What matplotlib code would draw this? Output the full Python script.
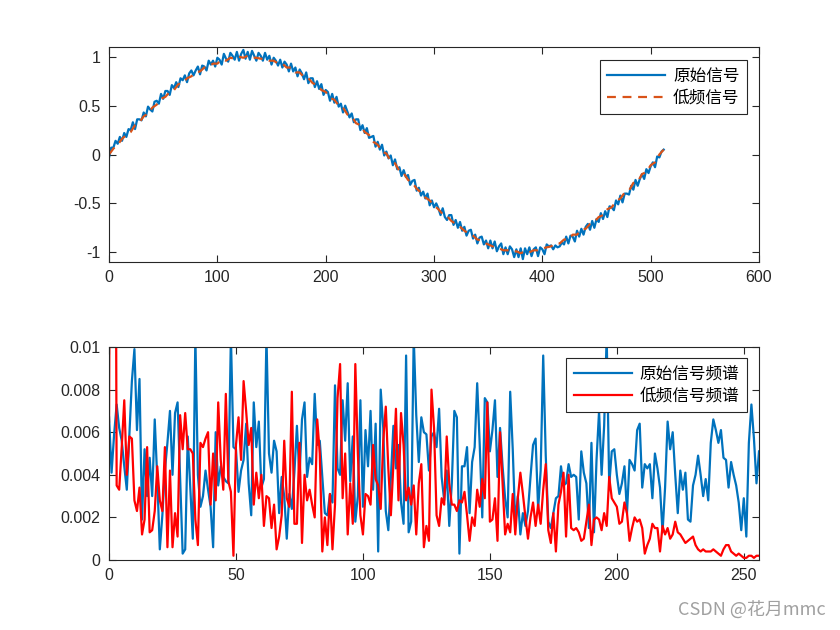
"""
Original vs low-frequency signal and their spectra (MATLAB-style look)
"""
import numpy as np
import matplotlib
matplotlib.use("Agg")
import matplotlib.pyplot as plt

plt.rcParams['font.family'] = ['Liberation Sans', 'Noto Sans CJK SC', 'DejaVu Sans']

# ---------------------------------------------------------
# Data
# ---------------------------------------------------------
RAW_STEP = 2  # sample spacing of raw_signal
LOW_STEP = 4  # sample spacing of low_signal

raw_signal = [
    -0.03, 0.07, 0.07, 0.14, 0.11, 0.18, 0.14, 0.22, 0.18, 0.26, 0.25, 0.33, 0.26, 0.36, 0.36, 0.35,
    0.43, 0.39, 0.49, 0.46, 0.44, 0.54, 0.55, 0.52, 0.62, 0.57, 0.65, 0.65, 0.61, 0.71, 0.68, 0.74,
    0.69, 0.78, 0.76, 0.81, 0.74, 0.83, 0.86, 0.81, 0.86, 0.90, 0.82, 0.91, 0.90, 0.86, 0.96, 0.92,
    0.96, 0.90, 0.99, 0.97, 0.92, 1.03, 0.98, 0.95, 1.04, 1.01, 0.97, 1.05, 0.96, 1.03, 1.07, 0.98,
    1.05, 0.97, 1.06, 1.01, 0.96, 1.04, 1.01, 0.96, 1.04, 0.97, 1.01, 0.92, 0.99, 0.96, 0.91, 0.97,
    0.89, 0.95, 0.92, 0.85, 0.93, 0.85, 0.89, 0.80, 0.87, 0.83, 0.77, 0.84, 0.73, 0.78, 0.78, 0.69,
    0.75, 0.67, 0.72, 0.61, 0.66, 0.64, 0.55, 0.62, 0.53, 0.59, 0.49, 0.52, 0.43, 0.50, 0.44, 0.38,
    0.42, 0.33, 0.36, 0.36, 0.25, 0.30, 0.22, 0.27, 0.17, 0.18, 0.19, 0.08, 0.13, 0.05, 0.10, -0.01,
    0.03, -0.04, -0.01, -0.11, -0.05, -0.15, -0.13, -0.22, -0.16, -0.23, -0.21, -0.31, -0.27, -0.26, -0.37, -0.34,
    -0.42, -0.38, -0.45, -0.40, -0.52, -0.47, -0.54, -0.50, -0.55, -0.62, -0.55, -0.64, -0.67, -0.62, -0.62, -0.72,
    -0.67, -0.75, -0.69, -0.78, -0.74, -0.83, -0.78, -0.77, -0.86, -0.82, -0.91, -0.85, -0.84, -0.92, -0.88, -0.96,
    -0.88, -0.96, -0.89, -0.99, -0.94, -0.91, -1.02, -0.95, -1.02, -0.94, -0.97, -1.05, -0.97, -1.05, -0.96, -1.07,
    -0.96, -1.02, -0.95, -1.04, -0.97, -0.95, -1.04, -0.95, -0.97, -1.02, -0.92, -0.94, -0.93, -0.97, -0.93, -0.95,
    -0.94, -0.90, -0.92, -0.84, -0.91, -0.83, -0.84, -0.89, -0.78, -0.84, -0.76, -0.82, -0.74, -0.71, -0.77, -0.68,
    -0.75, -0.66, -0.69, -0.60, -0.66, -0.58, -0.64, -0.53, -0.54, -0.57, -0.47, -0.51, -0.42, -0.49, -0.40, -0.40,
    -0.41, -0.32, -0.36, -0.26, -0.32, -0.25, -0.20, -0.25, -0.15, -0.19, -0.12, -0.08, -0.13, -0.02, -0.03, 0.03,
    0.05,
]

low_signal = [
    0.00, 0.06, 0.10, 0.16, 0.20, 0.23, 0.30, 0.33, 0.39, 0.42, 0.48, 0.51, 0.57, 0.59, 0.64, 0.66,
    0.72, 0.73, 0.78, 0.80, 0.84, 0.85, 0.89, 0.90, 0.93, 0.93, 0.97, 0.96, 0.99, 0.98, 1.00, 0.99,
    1.01, 0.99, 0.99, 0.98, 0.98, 0.96, 0.96, 0.93, 0.93, 0.89, 0.89, 0.84, 0.84, 0.79, 0.78, 0.73,
    0.71, 0.66, 0.64, 0.58, 0.56, 0.50, 0.48, 0.41, 0.39, 0.32, 0.30, 0.23, 0.20, 0.13, 0.10, 0.03,
    0.01, -0.07, -0.09, -0.17, -0.19, -0.26, -0.29, -0.35, -0.39, -0.44, -0.47, -0.52, -0.56, -0.61, -0.63, -0.68,
    -0.71, -0.74, -0.78, -0.81, -0.83, -0.87, -0.88, -0.91, -0.93, -0.95, -0.96, -0.98, -0.98, -1.00, -0.99, -1.01,
    -0.99, -1.00, -0.98, -0.98, -0.96, -0.95, -0.94, -0.91, -0.91, -0.87, -0.87, -0.82, -0.82, -0.77, -0.76, -0.71,
    -0.69, -0.64, -0.62, -0.56, -0.54, -0.48, -0.45, -0.39, -0.37, -0.29, -0.28, -0.20, -0.18, -0.11, -0.08, 0.00,
    0.05,
]

# spectra, in units of 1e-3, one value per frequency bin 0..256
raw_spectrum = [
    6.7, 4.1, 5.9, 7.3, 6.2, 5.6, 4.4, 3.3, 5.8, 8.4, 9.9, 6.1, 8.5, 1.9, 5.2, 3.0,
    4.8, 3.0, 6.6, 3.8, 0.5, 2.1, 4.2, 5.5, 7.0, 4.0, 6.9, 7.4, 3.8, 0.3, 0.5, 5.8,
    3.4, 1.0, 10.5, 4.0, 2.5, 3.0, 4.2, 3.3, 2.5, 0.6, 6.0, 3.5, 4.4, 3.9, 3.7, 3.6,
    10.5, 5.3, 5.2, 3.2, 4.2, 4.7, 6.4, 3.6, 2.1, 7.4, 5.3, 6.5, 3.4, 3.8, 10.5, 5.0,
    4.1, 5.6, 5.1, 2.2, 3.9, 3.0, 1.0, 3.1, 2.4, 4.1, 6.3, 3.9, 6.6, 7.4, 3.9, 4.8,
    4.5, 7.8, 5.4, 5.6, 3.9, 2.2, 2.1, 3.1, 2.7, 8.2, 4.3, 4.0, 7.5, 5.6, 8.3, 3.7,
    5.8, 1.8, 3.0, 7.5, 2.5, 6.1, 4.4, 7.0, 3.3, 6.4, 0.4, 8.0, 6.2, 2.3, 1.4, 3.9,
    6.3, 4.3, 5.4, 2.7, 1.7, 9.6, 1.3, 1.8, 10.5, 6.8, 4.6, 6.7, 6.0, 5.9, 4.2, 5.8,
    6.0, 5.3, 7.1, 3.9, 2.8, 4.2, 1.6, 3.6, 7.0, 6.7, 0.3, 4.4, 4.4, 5.3, 2.2, 4.6,
    5.3, 8.3, 5.4, 2.0, 7.6, 7.4, 5.1, 6.1, 7.5, 3.9, 6.2, 4.4, 2.9, 2.0, 7.9, 5.2,
    1.7, 3.0, 1.2, 2.2, 1.6, 2.3, 3.9, 5.4, 5.7, 2.4, 4.2, 9.6, 4.9, 1.8, 1.5, 2.2,
    2.9, 3.0, 4.4, 3.5, 3.6, 4.5, 3.9, 4.0, 3.9, 1.9, 5.1, 4.1, 3.6, 1.5, 5.5, 1.3,
    4.7, 7.0, 4.0, 6.3, 10.5, 3.5, 5.1, 5.2, 4.0, 3.1, 3.6, 4.4, 2.2, 4.7, 4.5, 4.2,
    6.1, 6.4, 3.4, 4.5, 4.3, 4.5, 2.9, 5.0, 4.3, 3.4, 1.3, 3.4, 6.5, 5.2, 6.0, 4.0,
    2.2, 4.2, 3.3, 4.1, 1.9, 1.8, 3.5, 4.0, 4.9, 4.0, 3.0, 3.8, 2.8, 5.5, 6.6, 6.1,
    5.5, 6.1, 4.8, 4.7, 3.4, 4.6, 4.0, 3.5, 2.7, 1.4, 2.9, 1.1, 5.5, 7.3, 5.7, 3.6,
    5.1,
]

low_spectrum = [
    6.5, 40.0, 40.0, 3.5, 3.3, 5.3, 7.5, 4.0, 5.8, 5.7, 2.8, 2.3, 3.4, 1.2, 1.9, 5.3,
    1.3, 1.4, 2.3, 4.4, 2.8, 2.3, 5.3, 0.6, 4.2, 0.6, 2.2, 1.1, 6.8, 5.2, 6.9, 5.2,
    5.2, 5.0, 1.9, 0.7, 5.5, 5.3, 5.7, 6.0, 2.6, 5.0, 2.8, 7.4, 4.7, 3.3, 7.8, 3.7,
    3.2, 0.2, 5.4, 6.7, 4.7, 8.4, 7.0, 5.4, 6.2, 2.6, 4.1, 2.9, 4.0, 1.6, 3.0, 2.9,
    1.5, 2.6, 0.5, 1.1, 2.1, 5.6, 2.9, 2.5, 7.9, 1.7, 1.7, 5.5, 0.8, 4.0, 2.8, 3.3,
    2.6, 2.0, 6.6, 5.0, 0.4, 2.0, 0.7, 3.1, 0.5, 2.6, 7.6, 9.2, 2.9, 5.0, 1.2, 3.6,
    1.7, 9.2, 5.0, 2.1, 1.2, 3.1, 3.0, 2.6, 5.4, 3.8, 3.5, 2.4, 5.6, 7.2, 4.3, 2.1,
    4.5, 7.1, 2.8, 6.9, 5.4, 2.8, 3.4, 2.6, 3.5, 1.2, 3.6, 4.5, 0.6, 1.6, 0.9, 8.0,
    6.2, 2.1, 1.6, 2.9, 2.6, 5.8, 3.6, 2.6, 2.6, 2.3, 2.8, 2.7, 3.2, 2.1, 0.9, 2.0,
    1.6, 3.3, 2.5, 3.8, 2.9, 7.4, 1.8, 1.9, 2.9, 0.9, 6.0, 3.6, 1.2, 1.7, 1.3, 3.1,
    1.2, 2.9, 4.1, 3.1, 2.0, 1.0, 2.0, 2.7, 1.6, 2.6, 1.7, 3.3, 4.5, 1.4, 0.8, 2.2,
    0.4, 2.6, 3.2, 4.1, 1.1, 4.0, 1.5, 1.4, 1.5, 1.3, 0.9, 1.0, 1.8, 2.6, 0.7, 1.9,
    2.0, 1.9, 1.4, 2.2, 1.6, 3.9, 2.9, 2.7, 2.5, 1.7, 1.8, 2.7, 2.2, 0.9, 1.5, 2.0,
    1.8, 1.9, 1.5, 0.3, 0.7, 1.0, 1.7, 1.5, 1.5, 0.4, 1.6, 1.2, 1.5, 1.0, 1.2, 1.8,
    1.3, 1.2, 1.0, 0.8, 0.9, 1.0, 1.1, 0.7, 0.5, 0.4, 0.5, 0.4, 0.4, 0.4, 0.5, 0.4,
    0.3, 0.2, 0.5, 0.7, 0.7, 0.4, 0.3, 0.2, 0.3, 0.2, 0.1, 0.1, 0.2, 0.2, 0.1, 0.2,
    0.2,
]

legend_top = ['原始信号', '低频信号']
legend_bottom = ['原始信号频谱', '低频信号频谱']

# ---------------------------------------------------------
# Style
# ---------------------------------------------------------
BLUE = '#0072BD'
ORANGE = '#D95319'
RED = '#FF0000'
AXIS_COLOR = '#262626'
CJK = ['Noto Sans CJK SC', 'DejaVu Sans']


def matlab_axes(ax):
    for s in ax.spines.values():
        s.set_color(AXIS_COLOR)
        s.set_linewidth(0.8)
    ax.tick_params(direction='in', top=True, right=True, length=5, width=0.8,
                   colors=AXIS_COLOR, labelsize=11.5, pad=6)


def matlab_legend(ax, anchor, handlelength):
    leg = ax.legend(loc='upper right', bbox_to_anchor=anchor, borderaxespad=0,
                    prop={'family': CJK, 'size': 12}, fancybox=False,
                    edgecolor=AXIS_COLOR, framealpha=1, handlelength=handlelength,
                    borderpad=0.45, labelspacing=0.3, handletextpad=0.45)
    leg.get_frame().set_linewidth(0.8)
    return leg


fig = plt.figure(figsize=(8.4, 6.3), dpi=100)

# ---------------------------------------------------------
# Top: signals
# ---------------------------------------------------------
ax1 = fig.add_axes([0.1298, 0.5841, 0.7738, 0.3413])
t = np.arange(len(raw_signal)) * RAW_STEP
t_low = np.arange(len(low_signal)) * LOW_STEP
ax1.plot(t, raw_signal, color=BLUE, lw=1.6, label=legend_top[0])
ax1.plot(t_low, low_signal, color=ORANGE, lw=1.6, ls=(0, (4, 3)), label=legend_top[1])
ax1.set_xlim(0, 600)
ax1.set_ylim(-1.1, 1.1)
ax1.set_xticks(np.arange(0, 601, 100))
ax1.set_yticks([-1, -0.5, 0, 0.5, 1])
ax1.set_yticklabels(['-1', '-0.5', '0', '0.5', '1'])
matlab_axes(ax1)
matlab_legend(ax1, (0.9815, 0.9395), 3.5)

# ---------------------------------------------------------
# Bottom: spectra
# ---------------------------------------------------------
ax2 = fig.add_axes([0.1298, 0.1111, 0.7738, 0.3381])
f = np.arange(len(raw_spectrum))
f_low = np.arange(len(low_spectrum))
ax2.plot(f, np.array(raw_spectrum) * 1e-3, color=BLUE, lw=1.6, label=legend_bottom[0])
ax2.plot(f_low, np.array(low_spectrum) * 1e-3, color=RED, lw=1.6, label=legend_bottom[1])
ax2.set_xlim(0, 256)
ax2.set_ylim(0, 0.01)
ax2.set_xticks([0, 50, 100, 150, 200, 250])
ax2.set_yticks([0, 0.002, 0.004, 0.006, 0.008, 0.01])
ax2.set_yticklabels(['0', '0.002', '0.004', '0.006', '0.008', '0.01'])
matlab_axes(ax2)
matlab_legend(ax2, (0.9815, 0.948), 3.5)

fig.text(0.983, 0.016, 'CSDN @花月mmc', ha='right', va='bottom', fontsize=13,
         color='#a0a0a0', family=['Noto Sans CJK SC', 'DejaVu Sans'])

fig.savefig('out.png', dpi=100, facecolor='white')
